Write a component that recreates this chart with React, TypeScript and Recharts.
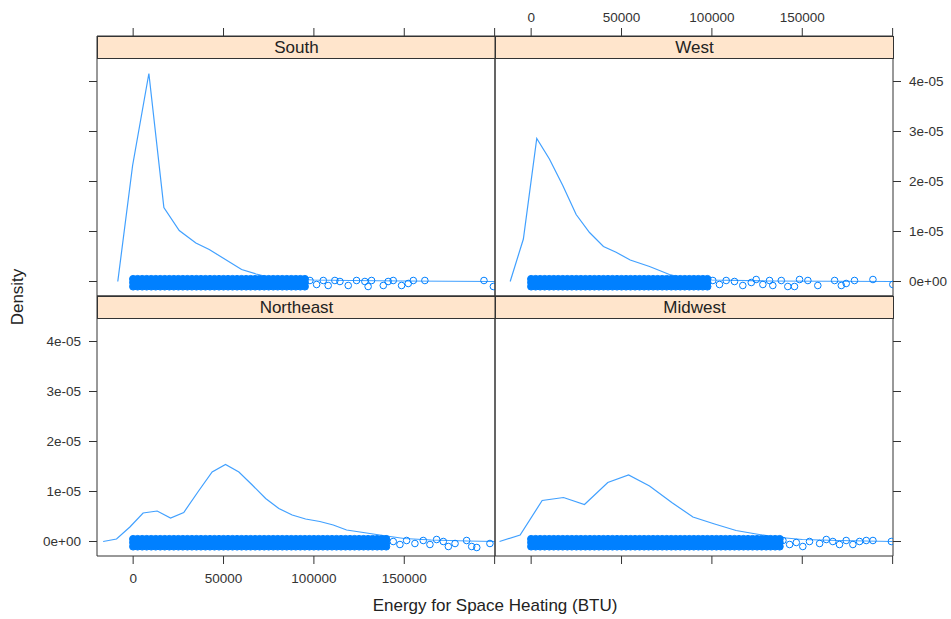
import React from "react";
import { ComposedChart, Line, Scatter, XAxis, YAxis } from "recharts";

const FONT = '"Liberation Sans", Arial, Helvetica, sans-serif';
const BLUE = "#0080ff";
const FRAME = "#333";
const STRIP_BG = "#ffe5cc";

const X_MIN = -20000;
const X_MAX = 200200;
const Y_MIN = -0.29e-5;
const Y_MAX = 4.45e-5;

const X_TICKS = [0, 50000, 100000, 150000, 200000];
const Y_TICKS = [0, 1e-5, 2e-5, 3e-5, 4e-5];

// density curves: [energy BTU, density]
const SOUTH_CURVE = [
  [-8500, 0], [-300, 2.32e-5], [8700, 4.16e-5], [17000, 1.48e-5], [25500, 1.02e-5],
  [34700, 0.77e-5], [42100, 0.64e-5], [60000, 0.24e-5], [68000, 0.15e-5], [76000, 0.08e-5],
  [86000, 0.05e-5], [100000, 0.03e-5], [120000, 0.02e-5], [150000, 0.01e-5], [200000, 0],
];
const WEST_CURVE = [
  [-11600, 0], [-4300, 0.85e-5], [3100, 2.86e-5], [10100, 2.45e-5], [17500, 1.92e-5],
  [24900, 1.34e-5], [32300, 0.98e-5], [40000, 0.7e-5], [47000, 0.585e-5], [54800, 0.43e-5],
  [65500, 0.3e-5], [76500, 0.14e-5], [85800, 0.06e-5], [100000, 0.03e-5], [130000, 0.01e-5],
  [200000, 0],
];
const NORTHEAST_CURVE = [
  [-16600, 0], [-9200, 0.05e-5], [-1800, 0.29e-5], [5500, 0.57e-5], [13300, 0.61e-5],
  [20700, 0.47e-5], [28000, 0.58e-5], [36000, 1.0e-5], [43700, 1.39e-5], [51100, 1.54e-5],
  [58500, 1.39e-5], [65900, 1.13e-5], [73300, 0.86e-5], [80600, 0.66e-5], [88000, 0.53e-5],
  [95400, 0.45e-5], [103300, 0.4e-5], [110700, 0.33e-5], [118100, 0.23e-5], [125500, 0.19e-5],
  [132800, 0.15e-5], [140200, 0.11e-5], [150000, 0.06e-5], [165000, 0.03e-5], [185000, 0.01e-5],
  [200000, 0],
];
const MIDWEST_CURVE = [
  [-17500, 0], [-6100, 0.13e-5], [6100, 0.82e-5], [17900, 0.88e-5], [29500, 0.74e-5],
  [42400, 1.18e-5], [53900, 1.33e-5], [65500, 1.11e-5], [77800, 0.78e-5], [89500, 0.49e-5],
  [101500, 0.35e-5], [113400, 0.22e-5], [124500, 0.15e-5], [135000, 0.09e-5], [150000, 0.04e-5],
  [170000, 0.02e-5], [200000, 0],
];

// positions along the solid band of overlapping points
const DENSE_X = [
  0, 2500, 5000, 7500, 10000, 12500, 15000, 17500, 20000, 22500, 25000, 27500, 30000, 32500,
  35000, 37500, 40000, 42500, 45000, 47500, 50000, 52500, 55000, 57500, 60000, 62500, 65000,
  67500, 70000, 72500, 75000, 77500, 80000, 82500, 85000, 87500, 90000, 92500, 95000, 97500,
  100000, 102500, 105000, 107500, 110000, 112500, 115000, 117500, 120000, 122500, 125000,
  127500, 130000, 132500, 135000, 137500, 140000,
];
const DENSE_ROWS = [0.05e-5, -0.02e-5, -0.1e-5];

// where the band stops being solid, per region
const SOUTH_DENSE_END = 95000;
const WEST_DENSE_END = 97500;
const NORTHEAST_DENSE_END = 140000;
const MIDWEST_DENSE_END = 137500;

// single open circles in the tail: [energy, jitter]
const SOUTH_SPARSE = [
  [97800, 0.02e-5], [101500, -0.06e-5], [105200, 0.02e-5], [107900, -0.08e-5], [111600, 0.02e-5],
  [114400, 0], [119000, -0.08e-5], [123600, 0.02e-5], [128200, 0], [130000, -0.1e-5],
  [131900, 0.02e-5], [138400, -0.08e-5], [141100, 0], [143900, 0.02e-5], [148500, -0.08e-5],
  [152200, -0.04e-5], [155000, 0.02e-5], [161400, 0.02e-5], [194100, 0.02e-5], [199300, -0.1e-5],
];
const WEST_SPARSE = [
  [100500, 0.02e-5], [104200, -0.06e-5], [107900, 0.02e-5], [112500, 0], [117100, -0.08e-5],
  [121800, -0.02e-5], [124500, 0.04e-5], [128200, -0.06e-5], [131900, 0.02e-5], [133700, -0.08e-5],
  [138400, 0.02e-5], [142000, -0.1e-5], [145700, -0.1e-5], [148500, 0.04e-5], [153100, 0.02e-5],
  [158600, -0.08e-5], [167900, 0.02e-5], [171600, -0.08e-5], [174300, -0.04e-5], [178900, 0.02e-5],
  [189100, 0.04e-5], [200100, -0.06e-5],
];
const NORTHEAST_SPARSE = [
  [143900, 0], [147600, -0.06e-5], [151300, 0.02e-5], [155900, -0.04e-5], [160500, 0.02e-5],
  [164200, -0.06e-5], [167900, 0.04e-5], [171600, 0], [174400, -0.1e-5], [178100, -0.04e-5],
  [184500, 0.02e-5], [187300, -0.1e-5], [190100, -0.12e-5], [197400, -0.04e-5],
];
const MIDWEST_SPARSE = [
  [139300, 0.02e-5], [143000, -0.06e-5], [146700, -0.02e-5], [150300, -0.1e-5], [154000, 0],
  [159600, -0.04e-5], [163300, 0.04e-5], [166900, 0], [170600, -0.06e-5], [174300, 0.02e-5],
  [178000, -0.06e-5], [181700, 0], [185400, 0.02e-5], [189100, 0.02e-5], [199300, 0],
];

const PANEL_W = 398;
const PANEL_H = 237;
const STRIP_H = 23;
const AXIS_SIZE = 10;
// the plot box also runs under the strip, so the top axis sits above the strip like lattice
const Y_TOP = Y_MAX + ((Y_MAX - Y_MIN) * STRIP_H) / PANEL_H;

const fmtX = (v: number) => (v >= 200000 ? "" : String(v));
const fmtY = (v: number) => (v === 0 ? "0e+00" : `${Math.round(v * 1e5)}e-05`);
const blank = () => "";

const tickText = { fill: "#333", fontSize: 13.5, fontFamily: FONT };

type Side = "none" | "ticks" | "labels";

interface PanelProps {
  name: string;
  curve: number[][];
  sparse: number[][];
  denseEnd: number;
  left: number;
  top: number;
  topAxis: Side;
  bottomAxis: Side;
  leftAxis: Side;
  rightAxis: Side;
}

function Panel(p: PanelProps) {
  const curveData = p.curve.map(([x, y]) => ({ x, y }));
  const sparseData = p.sparse.map(([x, y]) => ({ x, y }));
  const denseData = DENSE_X.filter((x) => x <= p.denseEnd).flatMap((x) =>
    DENSE_ROWS.map((y) => ({ x, y }))
  );

  const boxTop = p.top - STRIP_H;
  const margin = {
    left: p.left - AXIS_SIZE,
    top: boxTop - AXIS_SIZE,
    right: 951 - p.left - PANEL_W - AXIS_SIZE,
    bottom: 619 - p.top - PANEL_H - AXIS_SIZE,
  };

  const xAxis = (id: string, orientation: "top" | "bottom", side: Side) => (
    <XAxis
      key={id}
      xAxisId={id}
      orientation={orientation}
      type="number"
      dataKey="x"
      domain={[X_MIN, X_MAX]}
      allowDataOverflow
      ticks={X_TICKS}
      interval={0}
      height={AXIS_SIZE}
      axisLine={{ stroke: FRAME }}
      tickLine={side === "none" ? false : { stroke: FRAME }}
      tickSize={8}
      tickMargin={orientation === "top" ? 6 : 9}
      tick={side === "labels" ? tickText : side === "ticks" ? { ...tickText, fill: "none" } : false}
      tickFormatter={side === "labels" ? fmtX : blank}
    />
  );

  const yAxis = (id: string, orientation: "left" | "right", side: Side) => (
    <YAxis
      key={id}
      yAxisId={id}
      orientation={orientation}
      type="number"
      dataKey="y"
      domain={[Y_MIN, Y_TOP]}
      allowDataOverflow
      ticks={Y_TICKS}
      interval={0}
      width={AXIS_SIZE}
      axisLine={{ stroke: FRAME }}
      tickLine={side === "none" ? false : { stroke: FRAME }}
      tickSize={8}
      tickMargin={8}
      tick={side === "labels" ? tickText : side === "ticks" ? { ...tickText, fill: "none" } : false}
      tickFormatter={side === "labels" ? fmtY : blank}
    />
  );

  return (
    <div style={{ position: "absolute", left: 0, top: 0, width: 951, height: 619 }}>
      <ComposedChart width={951} height={619} margin={margin}>
        {xAxis("b", "bottom", p.bottomAxis)}
        {xAxis("t", "top", p.topAxis)}
        {yAxis("l", "left", p.leftAxis)}
        {yAxis("r", "right", p.rightAxis)}
        <Scatter
          xAxisId="b"
          yAxisId="l"
          data={denseData}
          isAnimationActive={false}
          shape={(s: any) => (
            <circle cx={s.cx} cy={s.cy} r={3.6} fill={BLUE} stroke={BLUE} strokeWidth={1} />
          )}
        />
        <Scatter
          xAxisId="b"
          yAxisId="l"
          data={sparseData}
          isAnimationActive={false}
          shape={(s: any) => (
            <circle cx={s.cx} cy={s.cy} r={3.3} fill="none" stroke={BLUE} strokeWidth={1} />
          )}
        />
        <Line
          xAxisId="b"
          yAxisId="l"
          data={curveData}
          dataKey="y"
          type="linear"
          stroke={BLUE}
          strokeOpacity={0.75}
          strokeWidth={1.2}
          dot={false}
          isAnimationActive={false}
        />
      </ComposedChart>
      <div
        style={{
          position: "absolute",
          left: p.left,
          top: boxTop,
          width: PANEL_W + 1,
          height: STRIP_H,
          boxSizing: "border-box",
          background: STRIP_BG,
          border: `1px solid ${FRAME}`,
          textAlign: "center",
          fontSize: 17,
          lineHeight: `${STRIP_H - 2}px`,
          color: "#222",
          fontFamily: FONT,
        }}
      >
        {p.name}
      </div>
    </div>
  );
}

export default function App() {
  return (
    <div
      style={{
        position: "absolute",
        left: 0,
        top: 0,
        width: 951,
        height: 619,
        background: "#fff",
        fontFamily: FONT,
        overflow: "hidden",
      }}
    >
      <Panel name="Northeast" curve={NORTHEAST_CURVE} sparse={NORTHEAST_SPARSE} denseEnd={NORTHEAST_DENSE_END}
        left={97} top={319} topAxis="none" bottomAxis="labels" leftAxis="labels" rightAxis="none" />
      <Panel name="Midwest" curve={MIDWEST_CURVE} sparse={MIDWEST_SPARSE} denseEnd={MIDWEST_DENSE_END}
        left={495} top={319} topAxis="none" bottomAxis="ticks" leftAxis="none" rightAxis="ticks" />
      <Panel name="South" curve={SOUTH_CURVE} sparse={SOUTH_SPARSE} denseEnd={SOUTH_DENSE_END}
        left={97} top={59} topAxis="ticks" bottomAxis="none" leftAxis="ticks" rightAxis="none" />
      <Panel name="West" curve={WEST_CURVE} sparse={WEST_SPARSE} denseEnd={WEST_DENSE_END}
        left={495} top={59} topAxis="labels" bottomAxis="none" leftAxis="none" rightAxis="labels" />
      <div
        style={{
          position: "absolute",
          left: 18,
          top: 297,
          transform: "translate(-50%, -50%) rotate(-90deg)",
          fontSize: 17,
          color: "#222",
          whiteSpace: "nowrap",
        }}
      >
        Density
      </div>
      <div
        style={{
          position: "absolute",
          left: 495,
          top: 606,
          transform: "translate(-50%, -50%)",
          fontSize: 17,
          color: "#222",
          whiteSpace: "nowrap",
        }}
      >
        Energy for Space Heating (BTU)
      </div>
    </div>
  );
}
